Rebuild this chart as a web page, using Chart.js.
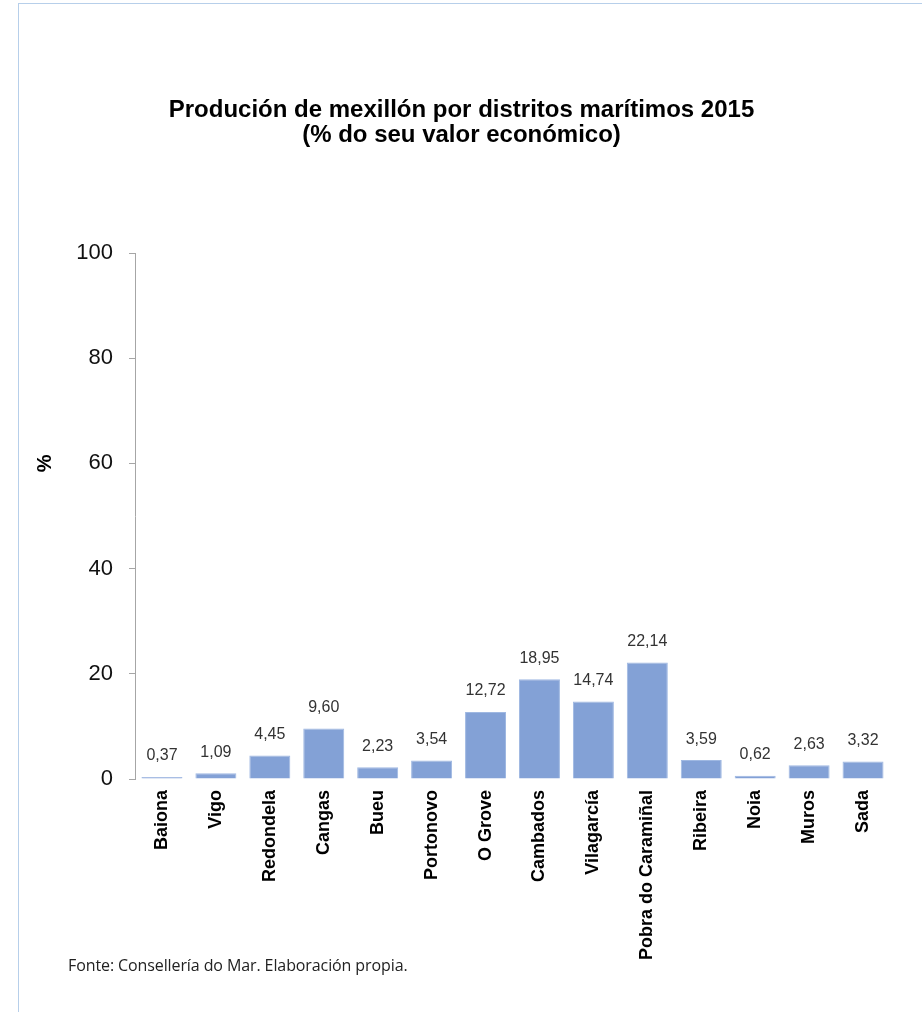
<!DOCTYPE html>
<html>
<head>
<meta charset="utf-8">
<script src="https://cdn.jsdelivr.net/npm/chart.js@4/dist/chart.umd.min.js"></script>
<style>
  html, body { margin: 0; padding: 0; background: #fff; }
  #frame {
    position: absolute; left: 18px; top: 3px; width: 904px; height: 1009px;
    border-left: 1px solid #b7cfea; border-top: 1px solid #b7cfea;
  }
  #box { position: absolute; left: 0; top: 0; width: 922px; height: 1012px; }
  #fonte {
    position: absolute; left: 68px; top: 954px;
    font: 16px "Open Sans", "Liberation Sans", sans-serif; color: #222;
    letter-spacing: -0.1px;
  }
</style>
</head>
<body>
<div id="frame"></div>
<div id="box"><canvas id="chart"></canvas></div>
<div id="fonte">Fonte: Consellería do Mar. Elaboración propia.</div>
<script>
const distritos = ['Baiona', 'Vigo', 'Redondela', 'Cangas', 'Bueu', 'Portonovo', 'O Grove',
  'Cambados', 'Vilagarcía', 'Pobra do Caramiñal', 'Ribeira', 'Noia', 'Muros', 'Sada'];
const valor = [0.37, 1.09, 4.45, 9.60, 2.23, 3.54, 12.72, 18.95, 14.74, 22.14, 3.59, 0.62, 2.63, 3.32];
const titulo = ['Produción de mexillón por distritos marítimos 2015', '(% do seu valor económico)'];
const ejeY = '%';

// values above the bars, comma decimals
const barLabels = {
  id: 'barLabels',
  afterDatasetsDraw(chart) {
    const ctx = chart.ctx;
    const meta = chart.getDatasetMeta(0);
    ctx.save();
    ctx.font = '16px "Liberation Sans", Arial, sans-serif';
    ctx.fillStyle = '#333';
    ctx.textAlign = 'center';
    ctx.textBaseline = 'bottom';
    meta.data.forEach((bar, i) => {
      ctx.fillText(valor[i].toFixed(2).replace('.', ','), bar.x, bar.y - 13);
    });
    ctx.restore();
  }
};

// "%" axis title sits level with the 60 tick in the original
const axisTitle = {
  id: 'axisTitle',
  afterDraw(chart) {
    const ctx = chart.ctx;
    const y = chart.scales.y.getPixelForValue(60);
    ctx.save();
    ctx.translate(45, y);
    ctx.rotate(-Math.PI / 2);
    ctx.font = 'bold 20px "Liberation Sans", Arial, sans-serif';
    ctx.fillStyle = '#000';
    ctx.textAlign = 'center';
    ctx.textBaseline = 'middle';
    ctx.fillText(ejeY, 0, 0);
    ctx.restore();
  }
};

Chart.defaults.font.family = '"Liberation Sans", Arial, sans-serif';
Chart.defaults.color = '#111';

new Chart(document.getElementById('chart'), {
  type: 'bar',
  data: {
    labels: distritos,
    datasets: [{
      data: valor,
      backgroundColor: '#83a1d6',
      borderColor: '#9fb8e2',
      borderWidth: 1,
      categoryPercentage: 1,
      barPercentage: 0.76
    }]
  },
  options: {
    responsive: true,
    maintainAspectRatio: false,
    animation: false,
    layout: { padding: { left: 33, right: 32, top: 0, bottom: 0 } },
    plugins: {
      legend: { display: false },
      tooltip: { enabled: false },
      title: {
        display: true,
        text: titulo,
        color: '#000',
        font: { size: 24, weight: 'bold', lineHeight: 1.05 },
        padding: { top: 98, bottom: 104.6 }
      }
    },
    scales: {
      x: {
        grid: { display: false },
        border: { display: false },
        afterFit: (s) => { s.height = 233; },
        ticks: {
          minRotation: 90, maxRotation: 90, autoSkip: false, padding: 3,
          color: '#000',
          font: { size: 18, weight: 'bold' }
        }
      },
      y: {
        min: 0, max: 100,
        afterFit: (s) => { s.width = 102; },
        border: { display: true, color: '#a6a6a6' },
        grid: { drawOnChartArea: false, drawTicks: true, tickLength: 6, color: '#a6a6a6' },
        ticks: { stepSize: 20, padding: 16, color: '#111', font: { size: 22 } }
      }
    }
  },
  plugins: [barLabels, axisTitle]
});
</script>
</body>
</html>
